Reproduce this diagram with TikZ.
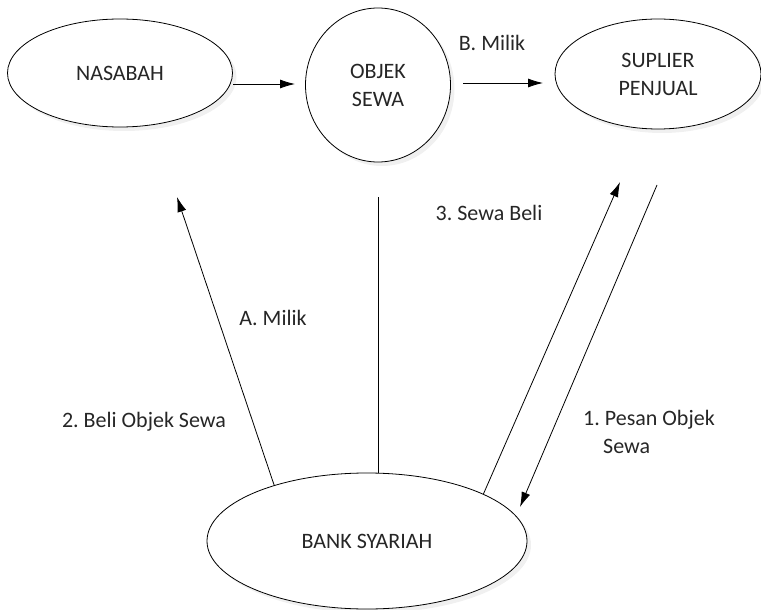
\documentclass[tikz,border=0pt]{standalone}
\usepackage{fontspec}
\setmainfont{Carlito}
\frenchspacing
\usetikzlibrary{shapes.geometric,arrows.meta,shadows}
\begin{document}
\begin{tikzpicture}[x=1pt,y=-1pt,
  every node/.style={font=\fontsize{22}{28}\selectfont, text=black!85},
  oval/.style={ellipse, draw, fill=white, line width=0.8pt, inner sep=0pt,
    drop shadow={opacity=0.12, shadow xshift=4pt, shadow yshift=-4pt}},
  arr/.style={-{Latex[length=15pt,width=9pt]}, line width=0.8pt},
  ln/.style={line width=0.8pt},
  lbl/.style={inner sep=0pt}]
\useasboundingbox (0,0) rectangle (761,610);
% nodes
\node[oval, minimum width=225pt, minimum height=108pt] (nas) at (120,73) {NASABAH};
\node[oval, minimum width=145pt, minimum height=154pt, align=center] (obj) at (378,85) {OBJEK\\SEWA};
\node[oval, minimum width=206pt, minimum height=110pt, align=center] (sup) at (658,74) {SUPLIER\\PENJUAL};
\node[oval, minimum width=320pt, minimum height=136pt] (bank) at (367,541) {BANK SYARIAH};
% free ends
\coordinate (n1) at (233,84);
\coordinate (o1) at (295,84);
\coordinate (o2) at (463,83);
\coordinate (s1) at (543,83);
\coordinate (tA) at (177,197);
\coordinate (v1) at (378,197);
\coordinate (tS) at (620,182);
\coordinate (s2) at (657,185);
\coordinate (tB) at (520,507);
% connectors
\draw[arr] (n1) -- (o1);
\draw[arr] (o2) -- (s1);
\draw[arr] (bank.149) -- (tA);
\draw[ln] (v1) -- (v1 |- bank.north);
\draw[arr] (bank.22) -- (tS);
\draw[arr] (s2) -- (tB);
% labels
\node[lbl] (lB) at (492,43) {B. Milik};
\node[lbl] (l3) at (489,213) {3. Sewa Beli};
\node[lbl] (lA) at (273,318) {A. Milik};
\node[lbl] (l2) at (144,422) {2. Beli Objek Sewa};
\node[lbl, align=left, anchor=north west] (l1) at (583,410) {1. Pesan Objek\\\hspace*{20pt}Sewa};
\end{tikzpicture}
\end{document}
